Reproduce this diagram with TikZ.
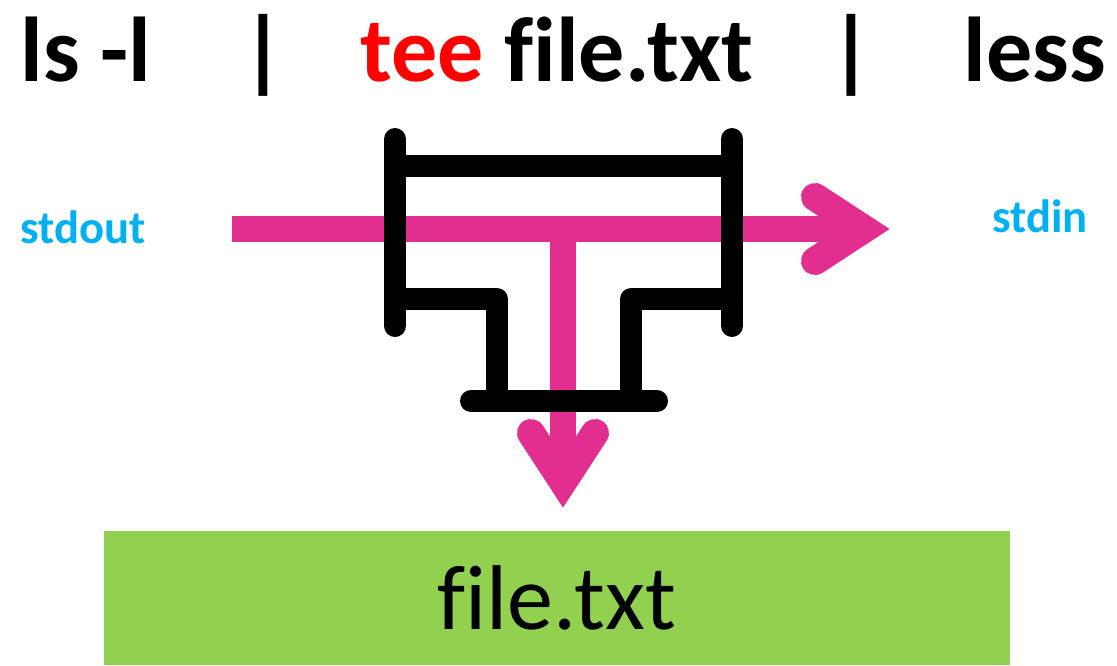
\documentclass[tikz,border=0pt]{standalone}
\usepackage{fontspec}
\setmainfont{Carlito}[Ligatures=NoCommon]
\usepackage{xcolor}
\definecolor{teepink}{RGB}{226,46,143}
\definecolor{streamblue}{RGB}{0,176,240}
\definecolor{filegreen}{RGB}{146,208,80}

\begin{document}
\begin{tikzpicture}[x=0.75pt, y=-0.75pt, every node/.style={inner sep=0pt}]
\tikzstyle{cmd}=[font=\fontsize{69}{80}\selectfont\bfseries, anchor=base]
\tikzstyle{stream}=[font=\fontsize{35}{40}\selectfont\bfseries, text=streamblue, anchor=base]
\tikzstyle{wall}=[draw=black, line width=16.5pt, line cap=round, line join=round]
\tikzstyle{flow}=[draw=teepink, line width=19.5pt]
\tikzstyle{head}=[draw=teepink, line width=21pt, line cap=round, line join=miter]

\useasboundingbox (0,0) rectangle (1117,665);

% Command line on top
\node[cmd] (lscmd) at (86,81) {ls -l};
\node[cmd] (pipeA) at (263,81) {|};
\node[cmd] (teecmd) at (557,81) {\textcolor{red}{tee} file.txt};
\node[cmd] (pipeB) at (851,81) {|};
\node[cmd] (lesscmd) at (1035,81) {less};

% Stream labels
\node[stream] (stdoutlbl) at (83,243) {stdout};
\node[stream] (stdinlbl) at (1040,232) {stdin};

% Output file
\node[fill=filegreen, minimum width=679.5pt, minimum height=100.5pt,
      font=\fontsize{69}{80}\selectfont] (filebox) at (557,598) {file.txt};

% Data flow (drawn first, pipe walls go on top)
\coordinate (flowin) at (232,229);
\coordinate (split) at (563,229);
\coordinate (sidetip) at (864,229);
\coordinate (downtip) at (563,482);
\draw[flow] (flowin) -- (sidetip);
\draw[flow] (split) -- (downtip);
\draw[head] ([shift={(-49,-32)}]sidetip) -- (sidetip) -- ([shift={(-49,32)}]sidetip);
\draw[head] ([shift={(-32,-49)}]downtip) -- (downtip) -- ([shift={(32,-49)}]downtip);

% Tee fitting
\draw[wall] (395,139) -- (395,326);
\draw[wall] (732,139) -- (732,326);
\draw[wall] (395,166) -- (732,166);
\draw[wall] (395,299) -- (497,299) -- (497,401);
\draw[wall] (732,299) -- (631,299) -- (631,401);
\draw[wall] (471,401) -- (657,401);
\end{tikzpicture}
\end{document}
